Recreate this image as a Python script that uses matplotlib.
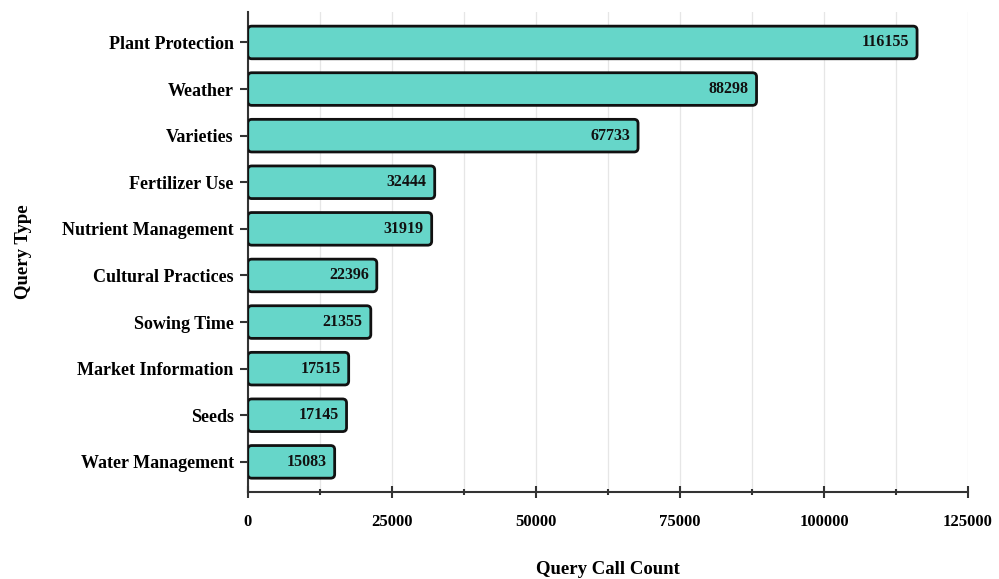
import matplotlib
matplotlib.use("Agg")
import matplotlib.pyplot as plt
from matplotlib.patches import FancyBboxPatch
from matplotlib.ticker import MultipleLocator

# query categories and their call counts
query_types = ["Plant Protection", "Weather", "Varieties", "Fertilizer Use",
               "Nutrient Management", "Cultural Practices", "Sowing Time",
               "Market Information", "Seeds", "Water Management"]
call_counts = [116155, 88298, 67733, 32444, 31919, 22396, 21355, 17515, 17145, 15083]

plt.rcParams['font.family'] = ['Liberation Serif', 'DejaVu Serif']
plt.rcParams['font.weight'] = 'bold'

fig = plt.figure(figsize=(9.99, 5.79), dpi=100)
ax = fig.add_axes([0.248, 0.150, 0.721, 0.829])

bar_color = '#66d6c9'
bars = ax.barh(range(len(query_types)), call_counts, height=0.7, color=bar_color)

ax.set_xlim(0, 125000)
ax.set_ylim(len(query_types) - 0.35, -0.65)

# swap the plain rectangles for rounded ones
ax_w = fig.get_figwidth() * fig.dpi * 0.721
ax_h = fig.get_figheight() * fig.dpi * 0.829
x_per_px = 125000 / ax_w
y_per_px = (len(query_types) + 0.3) / ax_h
radius_px = 4
for b in bars:
    x, y = b.get_x(), b.get_y()
    w, h = b.get_width(), b.get_height()
    b.set_visible(False)
    fancy = FancyBboxPatch((x, y), w, h,
                           boxstyle=f"round,pad=0,rounding_size={radius_px * x_per_px}",
                           mutation_aspect=y_per_px / x_per_px,
                           facecolor=bar_color, edgecolor='#111111', linewidth=2,
                           zorder=3)
    ax.add_patch(fancy)

for i, v in enumerate(call_counts):
    ax.text(v - 8 * x_per_px, i, f"{v}", ha='right', va='center',
            fontsize=11.5, fontweight='bold', color='#111111', zorder=4)

ax.set_yticks(range(len(query_types)))
ax.set_yticklabels(query_types, fontsize=13, fontweight='bold')
ax.xaxis.set_major_locator(MultipleLocator(25000))
ax.xaxis.set_minor_locator(MultipleLocator(12500))
ax.tick_params(axis='x', which='major', direction='inout', length=8, width=1.5,
               labelsize=12, pad=12, colors='#333333', labelcolor='black')
ax.tick_params(axis='x', which='minor', direction='inout', length=5, width=1.5,
               colors='#333333')
ax.tick_params(axis='y', which='major', direction='out', length=6, width=1.5,
               colors='#333333', labelcolor='black', pad=4)

ax.grid(axis='x', which='both', color='#e6e6e6', linewidth=0.9, zorder=0)
ax.set_axisbelow(True)

for side in ['top', 'right']:
    ax.spines[side].set_visible(False)
for side in ['left', 'bottom']:
    ax.spines[side].set_color('#333333')
    ax.spines[side].set_linewidth(1.5)

ax.set_xlabel("Query Call Count", fontsize=13.5, fontweight='bold', labelpad=22)
ax.set_ylabel("Query Type", fontsize=13.5, fontweight='bold', labelpad=22)

fig.savefig("out.png", dpi=100, facecolor='white')
